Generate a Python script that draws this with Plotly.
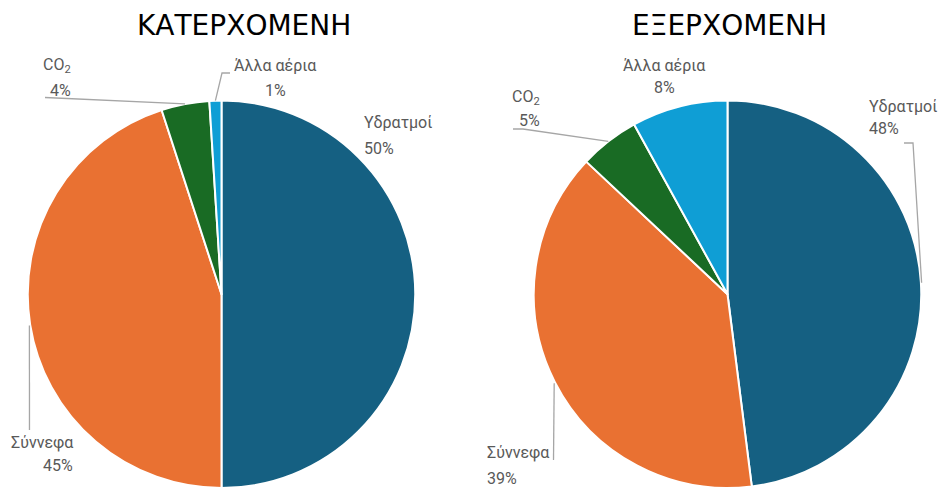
import math
import plotly.graph_objects as go

# Ποσοστά συνεισφοράς στην απορρόφηση ακτινοβολίας
labels = ["Υδρατμοί", "Σύννεφα", "CO<sub>2</sub>", "Άλλα αέρια"]
incoming = [50, 45, 4, 1]
outgoing = [48, 39, 5, 8]
titles = ["ΚΑΤΕΡΧΟΜΕΝΗ", "ΕΞΕΡΧΟΜΕΝΗ"]
colors = ["#156082", "#E97132", "#196B24", "#0F9ED5"]

W, H = 942, 488
R = 194.5
centers = [(221.5, 295), (727.5, 295)]

LABEL_FONT = dict(family="Roboto, Noto Sans, sans-serif", size=16, color="#595959")
TITLE_FONT = dict(family="DejaVu Sans, sans-serif", size=28, color="#000000")


def px(x):
    return x / W


def py(y):
    return 1 - y / H


def edge_point(center, values, idx):
    """Point on the rim at the middle of slice idx (clockwise from 12 o'clock)."""
    total = sum(values)
    mid = (sum(values[:idx]) + values[idx] / 2) / total * 2 * math.pi
    cx, cy = center
    return cx + R * math.sin(mid), cy - R * math.cos(mid)


fig = go.Figure()
for (cx, cy), vals in zip(centers, [incoming, outgoing]):
    fig.add_trace(go.Pie(
        labels=labels,
        values=vals,
        sort=False,
        direction="clockwise",
        rotation=0,
        textinfo="none",
        hoverinfo="label+percent",
        marker=dict(colors=colors, line=dict(color="white", width=2)),
        domain=dict(x=[px(cx - R), px(cx + R)], y=[0, py(cy - R)]),
        showlegend=False,
    ))

annotations = []
shapes = []

# chart titles
for title, x in zip(titles, [244, 729.5]):
    annotations.append(dict(text=title, x=px(x), y=py(25), xref="paper", yref="paper",
                            xanchor="center", yanchor="middle", showarrow=False,
                            font=TITLE_FONT))

# label placement: (name x, anchor, name y, pct y, leader path after rim point)
placement = [
    [  # incoming
        (362, "left", 123, 148, []),
        (75, "right", 442, 465, [(29.5, 430)]),
        (73, "right", 65, 90, [(45, 97.5)]),
        (275, "center", 65, 90, [(222, 73), (230, 73)]),
    ],
    [  # outgoing
        (867, "left", 107, 128, [(913, 143), (904, 143)]),
        (485, "left", 452, 478, [(553.5, 460)]),
        (542, "right", 98, 120, [(523, 129), (513, 129)]),
        (664, "center", 65, 88, []),
    ],
]

for center, vals, places in zip(centers, [incoming, outgoing], placement):
    for i, (lx, anchor, ny, ty, path) in enumerate(places):
        annotations.append(dict(text=labels[i], x=px(lx), y=py(ny), xref="paper", yref="paper",
                                xanchor=anchor, yanchor="middle", showarrow=False,
                                font=LABEL_FONT))
        annotations.append(dict(text=f"{vals[i]}%", x=px(lx), y=py(ty), xref="paper", yref="paper",
                                xanchor=anchor, yanchor="middle", showarrow=False,
                                font=LABEL_FONT))
        if path:
            pts = [edge_point(center, vals, i)] + path
            d = "M " + " L ".join(f"{px(x)},{py(y)}" for x, y in pts)
            shapes.append(dict(type="path", path=d, xref="paper", yref="paper",
                               line=dict(color="#A6A6A6", width=1.3)))

fig.update_layout(
    width=W, height=H,
    margin=dict(l=0, r=0, t=0, b=0),
    paper_bgcolor="white",
    plot_bgcolor="white",
    annotations=annotations,
    shapes=shapes,
)

fig.write_html("out.html")
